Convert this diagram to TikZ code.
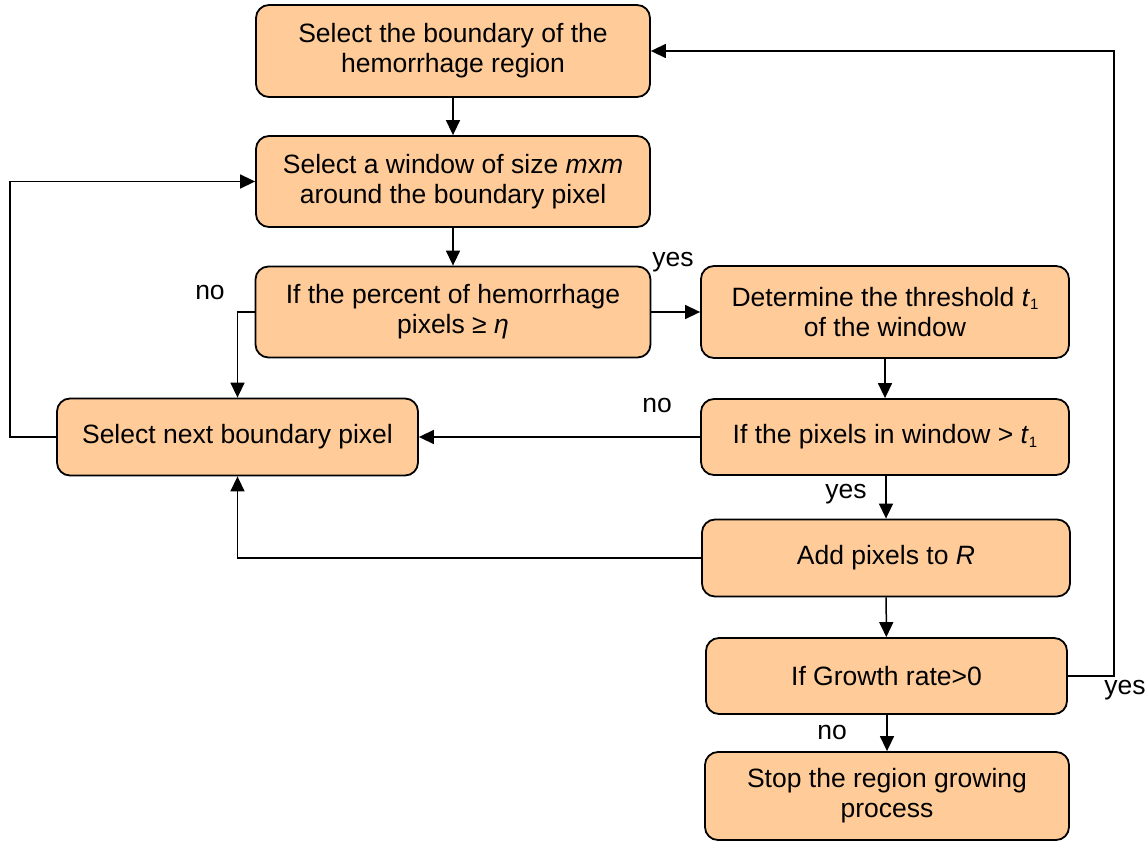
\documentclass[tikz,border=0pt]{standalone}
\usepackage{fontspec}
\setmainfont{Liberation Sans}
\usetikzlibrary{arrows.meta}
\definecolor{boxfill}{HTML}{FFCC99}
\newcommand{\sub}[1]{\raisebox{-0.25ex}{\fontsize{15}{15}\selectfont #1}}
\tikzset{
  stepbox/.style={draw=black, line width=1.8pt, fill=boxfill, rounded corners=13pt,
    align=center, inner sep=0pt, font=\fontsize{26.5}{30}\selectfont},
  flow/.style={draw=black, line width=1.5pt, -{Triangle[length=15pt,width=14pt]}},
  lbl/.style={font=\fontsize{26.5}{30}\selectfont, inner sep=0pt}
}
\begin{document}
\begin{tikzpicture}[x=1pt,y=-1pt]
\useasboundingbox (0,0) rectangle (1148,842);

% process boxes
\node[stepbox, minimum width=394pt, minimum height=92pt] (b1) at (453,51)
  {Select the boundary of the\\hemorrhage region};
\node[stepbox, minimum width=394pt, minimum height=91pt] (b2) at (453,181.5)
  {Select a window of size \textit{m}{\upshape x}\textit{m}\\around the boundary pixel};
\node[stepbox, minimum width=395pt, minimum height=91pt] (b3) at (453,312)
  {If the percent of hemorrhage\\pixels ≥ \textit{η}};
\node[stepbox, minimum width=368pt, minimum height=92pt] (b4) at (885,312)
  {Determine the threshold \textit{t}\sub{1}\\of the window};
\node[stepbox, minimum width=361pt, minimum height=77pt] (b5) at (237.5,437)
  {Select next boundary pixel};
\node[stepbox, minimum width=368pt, minimum height=76pt] (b6) at (885,437)
  {If the pixels in window > \textit{t}\sub{1}};
\node[stepbox, minimum width=368pt, minimum height=77pt] (b7) at (886,558)
  {Add pixels to \textit{R}};
\node[stepbox, minimum width=361pt, minimum height=76pt] (b8) at (886.5,676)
  {If Growth rate>0};
\node[stepbox, minimum width=364pt, minimum height=88pt] (b9) at (887,796)
  {Stop the region growing\\process};

% routing corners
\coordinate (lft) at (10,437);
\coordinate (rgt) at (1114,676);

% connectors
\draw[flow] (b1) -- (b2);
\draw[flow] (b2) -- (b3);
\draw[flow] (b3) -- (b4);
\draw[flow] (b3.west) -| (b5.north);
\draw[flow] (b5.west) -- (lft) |- (b2.west);
\draw[flow] (b4) -- (b6);
\draw[flow] (b6) -- (b5);
\draw[flow] (b6.south -| b7.north) -- (b7.north);
\draw[flow] (b7.west) -| (b5.south);
\draw[flow] (b7) -- (b8);
\draw[flow] (b8.south -| b9.north) -- (b9.north);
\draw[flow] (b8.east) -- (rgt) |- (b1.east);

% branch labels
\node[lbl] (yes1) at (673,262) {yes};
\node[lbl] (no1) at (210,292) {no};
\node[lbl] (no2) at (657,405) {no};
\node[lbl] (yes2) at (846,494) {yes};
\node[lbl] (yes3) at (1125,690) {yes};
\node[lbl] (no3) at (832,732) {no};
\end{tikzpicture}
\end{document}
